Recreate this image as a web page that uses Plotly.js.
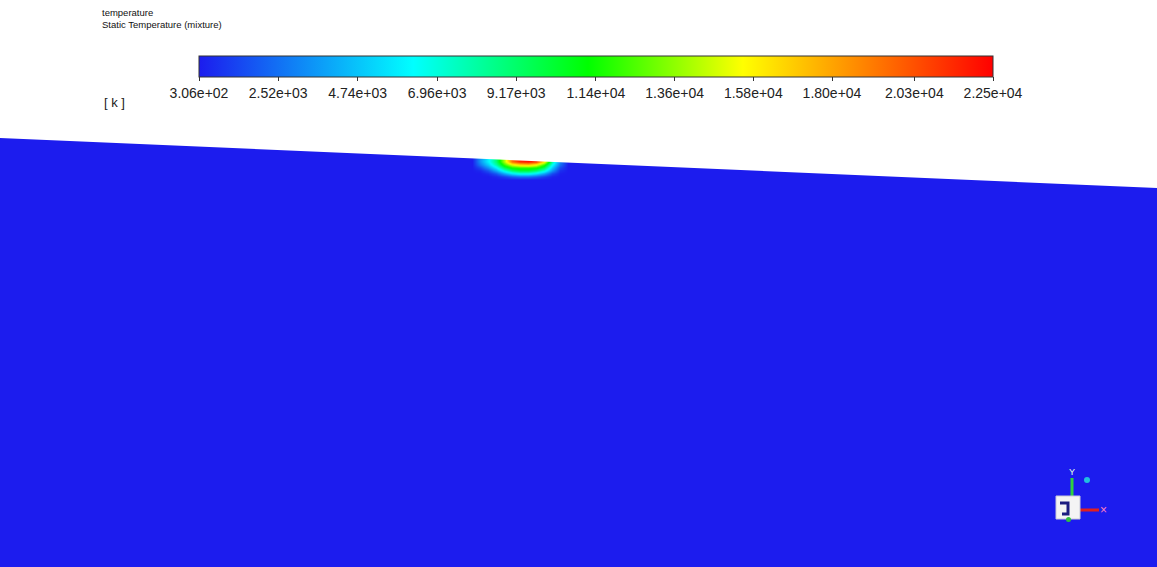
<!DOCTYPE html>
<html>
<head>
<meta charset="utf-8">
<script src="https://cdn.plot.ly/plotly-3.0.1.min.js"></script>
<style>html,body{margin:0;padding:0;background:#fff;}#chart{width:1157px;height:567px;}</style>
</head>
<body>
<div id="chart"></div>
<script>
// colour-bar ticks (K)
const tickValues = [306, 2520, 4740, 6960, 9170, 11400, 13600, 15800, 18000, 20300, 22500];
const tickLabels = ["3.06e+02","2.52e+03","4.74e+03","6.96e+03","9.17e+03","1.14e+04","1.36e+04","1.58e+04","1.80e+04","2.03e+04","2.25e+04"];
const tMin = 306, tMax = 22500;

// temperature field sample grid (screen-space coordinates of the mesh view)
const gridX = [0, 472, 480, 488, 496, 504, 512, 520, 528, 536, 544, 552, 560, 568, 1157];
const gridY = [130, 157, 161, 164, 167, 170, 173, 176, 179, 567];
const tempRow130 = [306,306,306,306,306,306,306,306,306,306,306,306,306,306,306];
const tempRow157 = [306,306,3500,6000,9000,14000,19500,21500,22000,21000,16000,8000,3000,306,306];
const tempRow161 = [306,306,3500,6000,9000,14000,19500,21500,22000,21000,16000,8000,3000,306,306];
const tempRow164 = [306,306,2800,5000,8000,12000,15000,16500,17000,15500,12000,6500,2500,306,306];
const tempRow167 = [306,306,1500,3500,6000,9500,11500,12000,12000,11500,9500,5000,1500,306,306];
const tempRow170 = [306,306,600,1800,4000,6800,9000,10000,10000,9000,7000,3500,800,306,306];
const tempRow173 = [306,306,306,700,1800,3800,5500,6500,6500,5500,3800,1500,400,306,306];
const tempRow176 = [306,306,306,306,600,1200,2000,2500,2500,2000,1200,500,306,306,306];
const tempRow179 = [306,306,306,306,306,306,306,306,306,306,306,306,306,306,306];
const tempRow567 = [306,306,306,306,306,306,306,306,306,306,306,306,306,306,306];

// upper boundary of the fluid domain
const edgeX = [0, 1157];
const edgeY = [138, 188];

const colorscale = [
  [0, 'rgb(28,28,238)'],
  [0.27, 'rgb(0,255,255)'],
  [0.49, 'rgb(0,255,0)'],
  [0.685, 'rgb(255,255,0)'],
  [1, 'rgb(255,0,0)']
];

const heat = {
  type: 'heatmap',
  x: gridX, y: gridY,
  z: [tempRow130, tempRow157, tempRow161, tempRow164, tempRow167, tempRow170, tempRow173, tempRow176, tempRow179, tempRow567],
  zmin: tMin, zmax: tMax, zsmooth: 'best',
  colorscale: colorscale,
  hoverinfo: 'skip',
  colorbar: {
    orientation: 'h',
    lenmode: 'pixels', len: 794,
    thicknessmode: 'pixels', thickness: 21,
    x: 596/1157, xanchor: 'center',
    y: 1 - 56/567, yanchor: 'top',
    xpad: 0, ypad: 0,
    outlinewidth: 1, outlinecolor: '#333',
    tickmode: 'array', tickvals: tickValues, ticktext: tickLabels,
    ticks: 'outside', ticklen: 4, tickcolor: '#333', tickwidth: 1,
    tickfont: {family: 'Liberation Sans, Arial, sans-serif', size: 14, color: '#222'}
  }
};

const cover = {
  type: 'scatter', mode: 'lines',
  x: edgeX.concat([edgeX[edgeX.length-1], edgeX[0]]),
  y: edgeY.concat([0, 0]),
  fill: 'toself', fillcolor: '#ffffff',
  line: {width: 0, color: '#ffffff'},
  hoverinfo: 'skip', showlegend: false
};

const font = 'Liberation Sans, Arial, sans-serif';
const layout = {
  width: 1157, height: 567,
  margin: {l: 0, r: 0, t: 0, b: 0, pad: 0},
  paper_bgcolor: '#ffffff', plot_bgcolor: '#ffffff',
  showlegend: false,
  xaxis: {range: [0, 1157], visible: false, fixedrange: true},
  yaxis: {range: [567, 0], visible: false, fixedrange: true},
  annotations: [
    {xref: 'paper', yref: 'paper', x: 100/1157, y: 1 - 13/567, xanchor: 'left', yanchor: 'middle', showarrow: false,
     text: 'temperature', font: {family: font, size: 9.5, color: '#111'}},
    {xref: 'paper', yref: 'paper', x: 100/1157, y: 1 - 25/567, xanchor: 'left', yanchor: 'middle', showarrow: false,
     text: 'Static Temperature (mixture)', font: {family: font, size: 9.5, color: '#111'}},
    {xref: 'paper', yref: 'paper', x: 102/1157, y: 1 - 102/567, xanchor: 'left', yanchor: 'middle', showarrow: false,
     text: '[ k ]', font: {family: font, size: 13, color: '#222'}},
    {xref: 'paper', yref: 'paper', x: 1072/1157, y: 1 - 472/567, xanchor: 'center', yanchor: 'middle', showarrow: false,
     text: 'Y', font: {family: font, size: 9, color: '#e0ffe0'}},
    {xref: 'paper', yref: 'paper', x: 1103/1157, y: 1 - 510/567, xanchor: 'center', yanchor: 'middle', showarrow: false,
     text: '×', font: {family: font, size: 12, color: '#ff80c0'}}
  ],
  shapes: [
    {type: 'line', xref: 'paper', yref: 'paper', x0: 1072/1157, x1: 1072/1157, y0: 1 - 478/567, y1: 1 - 497/567,
     line: {color: '#30d040', width: 3}},
    {type: 'line', xref: 'paper', yref: 'paper', x0: 1080/1157, x1: 1099/1157, y0: 1 - 510/567, y1: 1 - 510/567,
     line: {color: '#e02020', width: 3}},
    {type: 'rect', xref: 'paper', yref: 'paper', x0: 1056/1157, x1: 1080/1157, y0: 1 - 519/567, y1: 1 - 496/567,
     fillcolor: '#f4f4f4', line: {color: '#c8c8d8', width: 1}},
    {type: 'path', xref: 'paper', yref: 'paper',
     path: 'M ' + (1060/1157) + ' ' + (1 - 503/567) + ' L ' + (1068/1157) + ' ' + (1 - 503/567) + ' L ' + (1068/1157) + ' ' + (1 - 514/567) + ' L ' + (1062/1157) + ' ' + (1 - 514/567),
     line: {color: '#1c1c80', width: 3}},
    {type: 'circle', xref: 'paper', yref: 'paper', x0: 1084/1157, x1: 1090/1157, y0: 1 - 483/567, y1: 1 - 477/567,
     fillcolor: '#20c0e0', line: {color: '#20c0e0', width: 0}},
    {type: 'circle', xref: 'paper', yref: 'paper', x0: 1066/1157, x1: 1071/1157, y0: 1 - 522/567, y1: 1 - 517/567,
     fillcolor: '#30c040', line: {width: 0}}
  ]
};

Plotly.newPlot('chart', [heat, cover], layout, {staticPlot: true, displayModeBar: false});
</script>
</body>
</html>
